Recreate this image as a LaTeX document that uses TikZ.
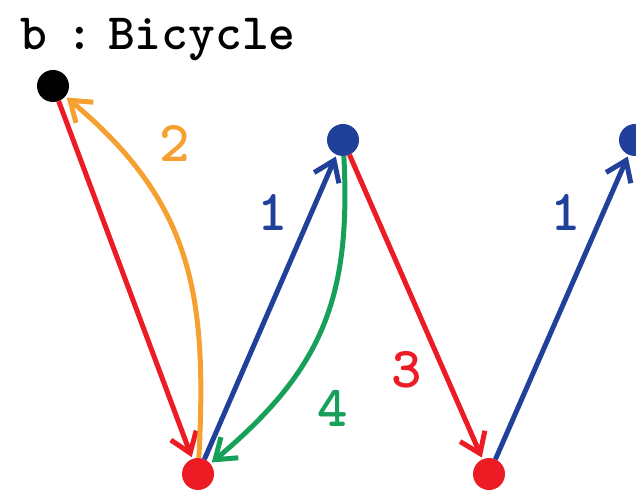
\documentclass[tikz,border=0pt]{standalone}
\usetikzlibrary{arrows.meta}
\definecolor{cred}{HTML}{ED1C24}
\definecolor{cblue}{HTML}{21409A}
\definecolor{corange}{HTML}{F5A030}
\definecolor{cgreen}{HTML}{17A05A}
\begin{document}
\begin{tikzpicture}[x=1pt,y=1pt,
  dot/.style={circle,fill=#1,minimum size=32pt,inner sep=0pt,outer sep=0pt},
  conn/.style={line width=5pt,draw=#1,-{Straight Barb[length=19pt,width=27pt,line width=5pt]},shorten >=2pt},
  lbl/.style={text=#1,inner sep=0pt,font=\ttfamily\bfseries\fontsize{58}{60}\selectfont}]
\useasboundingbox (0,0) rectangle (636,490);
\node[anchor=base west,inner sep=0pt,font=\ttfamily\bfseries\fontsize{51}{53}\selectfont] (title) at (20,440) {b\kern-7pt{} :\kern-21pt{} Bicycle};
\node[dot=black] (k) at (53,404) {};
\node[dot=cblue] (a) at (343,350) {};
\node[dot=cred] (b) at (198,16) {};
\node[dot=cred] (c) at (489,16) {};
\node[dot=cblue] (d) at (635,350) {};
\draw[conn=cred] (k) -- (b);
\draw[conn=corange] (b) to[out=87,in=-40,looseness=1.1] (k);
\draw[conn=cblue] (b) -- (a);
\draw[conn=cgreen] (a) to[out=-87,in=40,looseness=1.1] (b);
\draw[conn=cred] (a) -- (c);
\draw[conn=cblue] (c) -- (d);
\node[lbl=corange] (l2) at (175,347) {2};
\node[lbl=cblue] (l1a) at (273,278) {1};
\node[lbl=cred] (l3) at (407,120) {3};
\node[lbl=cgreen] (l4) at (333,82) {4};
\node[lbl=cblue] (l1b) at (566,278) {1};
\end{tikzpicture}
\end{document}
